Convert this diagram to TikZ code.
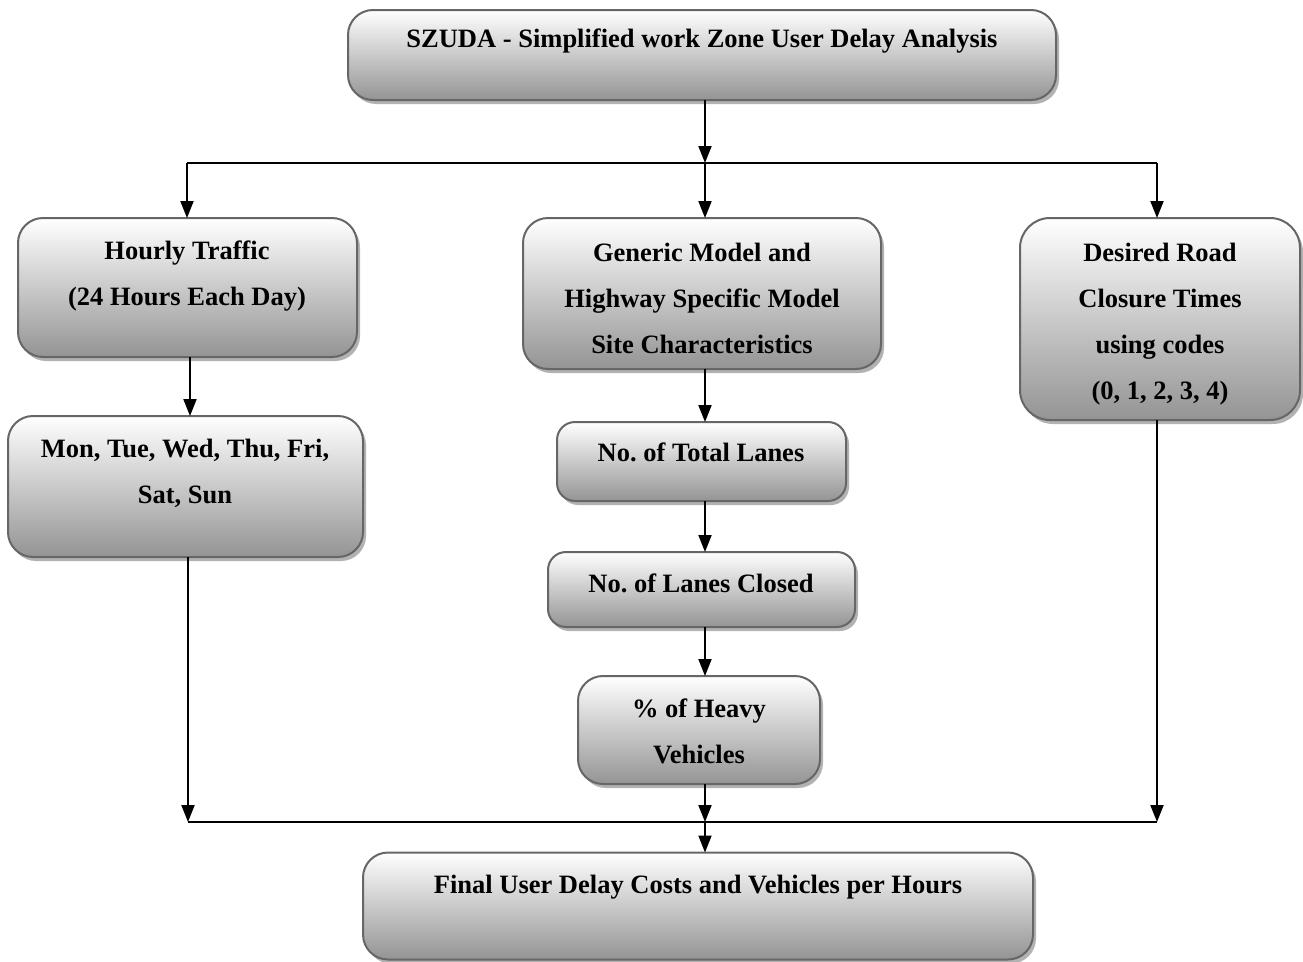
\documentclass[tikz,border=0pt]{standalone}
\usepackage{fontspec}
\setmainfont{Liberation Serif}
\usetikzlibrary{arrows.meta,shadows}
\frenchspacing
\begin{document}
\begin{tikzpicture}[x=1pt,y=-1pt,
  box/.style={draw=black!60, line width=2pt, rounded corners=25pt,
    top color=white, bottom color=black!42, inner sep=0pt, outer sep=0pt,
    drop shadow={shadow xshift=3pt, shadow yshift=-4pt, fill=black!30, opacity=1}},
  txt/.style={font=\fontsize{26.5}{46}\selectfont\bfseries, align=center, inner sep=0pt},
  conn/.style={line width=2pt, draw=black},
  arr/.style={conn, -{Triangle[length=17pt,width=13pt]}}]
\useasboundingbox (0,0) rectangle (1303,961);
% boxes
\node[box, minimum width=708pt, minimum height=90pt] (top) at (702,55) {};
\node[box, minimum width=339pt, minimum height=139pt] (hour) at (187.5,287.5) {};
\node[box, minimum width=358pt, minimum height=151pt] (gen) at (702,293.5) {};
\node[box, minimum width=280pt, minimum height=202pt, rounded corners=30pt] (des) at (1160,319) {};
\node[box, minimum width=355pt, minimum height=141pt] (mon) at (185.5,486.5) {};
\node[box, minimum width=289pt, minimum height=79pt, rounded corners=18pt] (tot) at (701.5,461.5) {};
\node[box, minimum width=307pt, minimum height=75pt, rounded corners=18pt] (clo) at (701.5,589.5) {};
\node[box, minimum width=242pt, minimum height=108pt] (hvy) at (699,730) {};
\node[box, minimum width=670pt, minimum height=107pt] (fin) at (698,906) {};
% texts
\node[txt] (toptxt) at (702,41) {SZUDA - Simplified work Zone User Delay Analysis};
\node[txt] (hourtxt) at (187,276) {Hourly Traffic\\(24 Hours Each Day)};
\node[txt] (gentxt) at (702,298) {Generic Model and\\Highway Specific Model\\Site Characteristics};
\node[txt] (destxt) at (1160,324) {Desired Road\\Closure Times\\using codes\\(0, 1, 2, 3, 4)};
\node[txt] (montxt) at (185,473) {Mon, Tue, Wed, Thu, Fri,\\Sat, Sun};
\node[txt] (tottxt) at (701,452) {No. of Total Lanes};
\node[txt] (clotxt) at (701,583) {No. of Lanes Closed};
\node[txt] (hvytxt) at (699,731) {\% of Heavy\\Vehicles};
\node[txt] (fintxt) at (698,887) {Final User Delay Costs and Vehicles per Hours};
% junction coordinates
\coordinate (j1) at (705,163);
\coordinate (j1l) at (187,163);
\coordinate (j1r) at (1157,163);
\coordinate (j2) at (705,822);
\coordinate (j2l) at (188,822);
\coordinate (j2r) at (1157,822);
% connectors
\draw[arr] (top.south -| j1) -- (j1);
\draw[conn] (j1l) -- (j1r);
\draw[arr] (j1l) -- (j1l |- hour.north);
\draw[arr] (j1) -- (j1 |- gen.north);
\draw[arr] (j1r) -- (j1r |- des.north);
\draw[arr] (190,357) -- (190,416);
\draw[arr] (gen.south -| j1) -- (j1 |- tot.north);
\draw[arr] (tot.south -| j1) -- (j1 |- clo.north);
\draw[arr] (clo.south -| j1) -- (j1 |- hvy.north);
\draw[arr] (mon.south -| j2l) -- (j2l);
\draw[arr] (hvy.south -| j2) -- (j2);
\draw[arr] (des.south -| j2r) -- (j2r);
\draw[conn] (j2l) -- (j2r);
\draw[arr] (j2) -- (j2 |- fin.north);
\end{tikzpicture}
\end{document}
